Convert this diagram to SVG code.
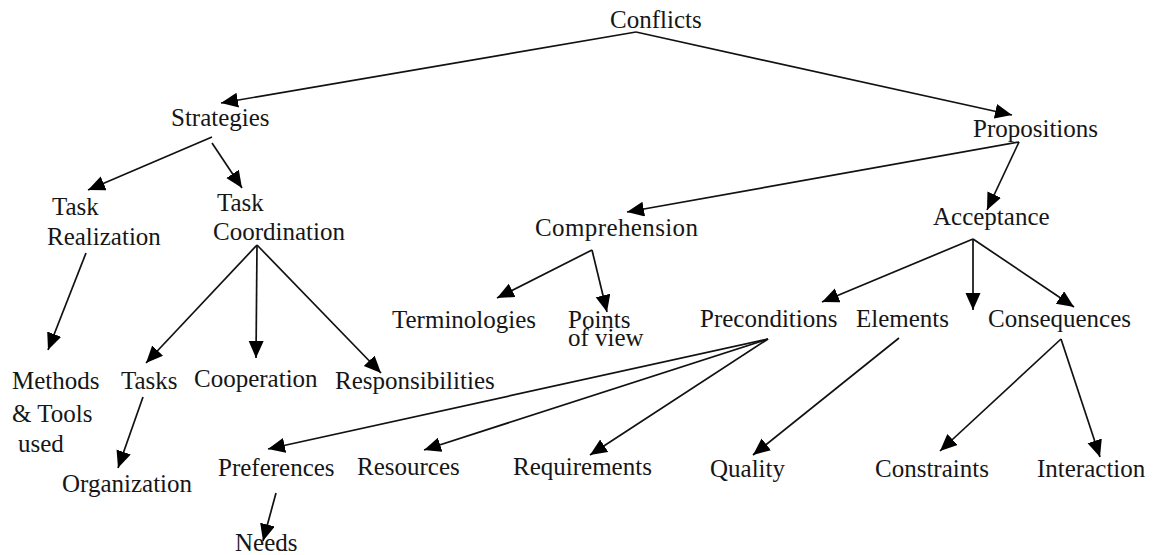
<svg xmlns="http://www.w3.org/2000/svg" width="1155" height="555" viewBox="0 0 1155 555">
<style>
text{font-size:25px;fill:#161616;font-family:"Liberation Serif","Times New Roman",serif}
.c line{stroke:#111;stroke-width:1.7;marker-end:url(#ah)}
</style>
<defs>
<marker id="ah" markerUnits="userSpaceOnUse" markerWidth="18" markerHeight="16" refX="17" refY="7.5" orient="auto"><path d="M0,0 L17,7.5 L0,15 z" fill="#000"/></marker>
</defs>
<rect width="1155" height="555" fill="#fff"/>
<g class="c" id="connectors">
<line x1="636" y1="32" x2="221" y2="103"/>
<line x1="636" y1="32" x2="1012" y2="115"/>
<line x1="212" y1="137" x2="88" y2="190"/>
<line x1="212" y1="143" x2="242" y2="188"/>
<line x1="1019" y1="142" x2="627" y2="212"/>
<line x1="1019" y1="142" x2="987" y2="210"/>
<line x1="86" y1="253" x2="48" y2="350"/>
<line x1="257" y1="245" x2="146" y2="363"/>
<line x1="257" y1="245" x2="256" y2="358"/>
<line x1="257" y1="245" x2="381" y2="373"/>
<line x1="592" y1="250" x2="497" y2="298"/>
<line x1="592" y1="250" x2="607" y2="312"/>
<line x1="973" y1="239" x2="822" y2="302"/>
<line x1="973" y1="239" x2="973" y2="310"/>
<line x1="973" y1="239" x2="1074" y2="307"/>
<line x1="143" y1="397" x2="118" y2="468"/>
<line x1="768" y1="339" x2="268" y2="449"/>
<line x1="768" y1="339" x2="424" y2="450"/>
<line x1="768" y1="339" x2="590" y2="455"/>
<line x1="899" y1="338" x2="753" y2="455"/>
<line x1="1061" y1="339" x2="940" y2="451"/>
<line x1="1061" y1="339" x2="1100" y2="457"/>
<line x1="276" y1="493" x2="263" y2="541"/>
</g>
<g id="conflicts"><text x="610" y="28">Conflicts</text></g>
<g id="strategies"><text x="171" y="126">Strategies</text></g>
<g id="propositions"><text x="973" y="137">Propositions</text></g>
<g id="task-realization"><text x="52" y="215">Task</text><text x="47" y="245">Realization</text></g>
<g id="task-coordination"><text x="217" y="211">Task</text><text x="213" y="240">Coordination</text></g>
<g id="comprehension"><text x="535" y="236" textLength="163">Comprehension</text></g>
<g id="acceptance"><text x="933" y="225">Acceptance</text></g>
<g id="terminologies"><text x="392" y="328">Terminologies</text></g>
<g id="points-of-view"><text x="568" y="328">Points</text><text x="568" y="346">of view</text></g>
<g id="preconditions"><text x="700" y="327">Preconditions</text></g>
<g id="elements"><text x="856" y="327">Elements</text></g>
<g id="consequences"><text x="988" y="327">Consequences</text></g>
<g id="methods-tools"><text x="12" y="389">Methods</text><text x="12" y="422">&amp; Tools</text><text x="18" y="452">used</text></g>
<g id="tasks"><text x="121" y="389">Tasks</text></g>
<g id="cooperation"><text x="194" y="387">Cooperation</text></g>
<g id="responsibilities"><text x="335" y="389">Responsibilities</text></g>
<g id="organization"><text x="62" y="492">Organization</text></g>
<g id="preferences"><text x="218" y="476">Preferences</text></g>
<g id="resources"><text x="357" y="475">Resources</text></g>
<g id="requirements"><text x="513" y="475">Requirements</text></g>
<g id="quality"><text x="710" y="477">Quality</text></g>
<g id="constraints"><text x="875" y="477">Constraints</text></g>
<g id="interaction"><text x="1037" y="477">Interaction</text></g>
<g id="needs"><text x="235" y="551">Needs</text></g>
</svg>
